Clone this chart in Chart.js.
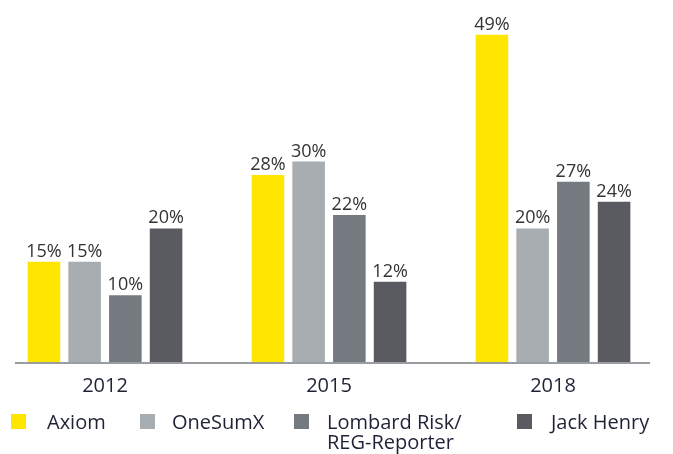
<!DOCTYPE html>
<html lang="en">
<head>
    <meta charset="UTF-8">
    <title>Vendor share</title>
    <script src="https://cdn.jsdelivr.net/npm/chart.js"></script>
    <style>
        body {
            margin: 0;
            padding: 0;
            background: #ffffff;
            font-family: "Open Sans", sans-serif;
            width: 673px;
            height: 454px;
            overflow: hidden;
            position: relative;
        }
        .wrap {
            position: absolute;
            left: -7px;
            top: 0;
            width: 680px;
            height: 410px;
        }
        .legend-box {
            position: absolute;
            width: 15px;
            height: 15px;
            top: 414px;
        }
        .legend-text {
            position: absolute;
            top: 412px;
            font-size: 20px;
            line-height: 20px;
            color: #1e2235;
            white-space: nowrap;
        }
    </style>
</head>
<body>
    <div class="wrap"><canvas id="chart"></canvas></div>
    <div id="legend"></div>

    <script>
        const categories = ['2012', '2015', '2018'];
        const seriesNames = ['Axiom', 'OneSumX', 'Lombard Risk/\nREG-Reporter', 'Jack Henry'];
        const axiom = [15, 28, 49];
        const oneSumX = [15, 30, 20];
        const lombardRisk = [10, 22, 27];
        const jackHenry = [20, 12, 24];

        const colors = ['#ffe600', '#a8adb2', '#747a80', '#5a5b60'];
        const legendBoxX = [11, 140, 294, 517];
        const legendTextX = [47, 172, 327, 551];

        // html legend
        const legend = document.getElementById('legend');
        seriesNames.forEach((name, i) => {
            const box = document.createElement('div');
            box.className = 'legend-box';
            box.style.left = legendBoxX[i] + 'px';
            box.style.background = colors[i];
            legend.appendChild(box);
            const txt = document.createElement('div');
            txt.className = 'legend-text';
            txt.style.left = legendTextX[i] + 'px';
            txt.innerHTML = name.replace('\n', '<br>');
            legend.appendChild(txt);
        });

        const valueLabels = {
            id: 'valueLabels',
            afterDatasetsDraw(chart) {
                const ctx = chart.ctx;
                ctx.save();
                ctx.font = '18px "Open Sans"';
                ctx.fillStyle = '#333333';
                ctx.textAlign = 'center';
                ctx.textBaseline = 'alphabetic';
                chart.data.datasets.forEach((ds, i) => {
                    chart.getDatasetMeta(i).data.forEach((bar, j) => {
                        ctx.fillText(ds.data[j] + '%', bar.x, bar.y - 5);
                    });
                });
                // baseline
                const y0 = chart.scales.y.getPixelForValue(0);
                ctx.strokeStyle = '#9a9da0';
                ctx.lineWidth = 2;
                ctx.beginPath();
                ctx.moveTo(22, y0 + 1);
                ctx.lineTo(657, y0 + 1);
                ctx.stroke();
                ctx.restore();
            }
        };

        const seriesData = [axiom, oneSumX, lombardRisk, jackHenry];

        function draw() {
            new Chart(document.getElementById('chart'), {
                type: 'bar',
                data: {
                    labels: categories,
                    datasets: seriesData.map((d, i) => ({
                        label: seriesNames[i],
                        data: d,
                        backgroundColor: colors[i],
                        borderWidth: 0,
                        categoryPercentage: 0.727,
                        barPercentage: 0.8
                    }))
                },
                options: {
                    responsive: true,
                    maintainAspectRatio: false,
                    animation: false,
                    layout: { padding: { top: 28, right: 8, left: 0, bottom: 0 } },
                    scales: {
                        x: {
                            grid: { display: false, drawTicks: false },
                            border: { display: false },
                            ticks: {
                                color: '#1e2235',
                                font: { family: 'Open Sans', size: 20 },
                                padding: 12
                            }
                        },
                        y: {
                            display: false,
                            min: 0,
                            max: 50
                        }
                    },
                    plugins: {
                        legend: { display: false },
                        tooltip: { enabled: false }
                    }
                },
                plugins: [valueLabels]
            });
        }

        document.fonts.load('20px "Open Sans"').then(draw, draw);
    </script>
</body>
</html>
